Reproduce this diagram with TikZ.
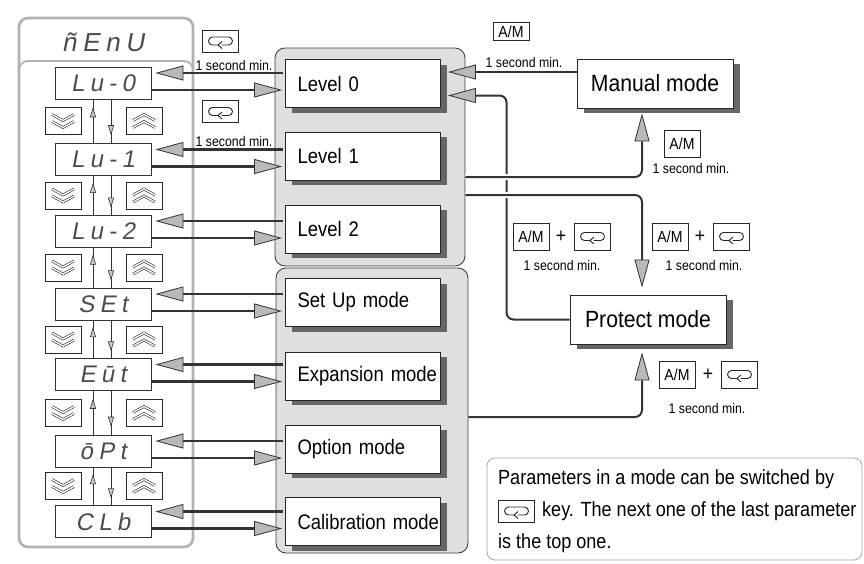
\documentclass[tikz,border=0pt]{standalone}
\usepackage{fontspec}
\setmainfont{Liberation Sans}
\newfontfamily\modefont[FakeStretch=0.88]{Liberation Sans}
\newfontfamily\sidefont[FakeStretch=0.9]{Liberation Sans}
\newfontfamily\segfont[LetterSpace=22,FakeSlant=0.18]{Liberation Sans}
\usetikzlibrary{arrows.meta,calc,decorations.markings,shadows}
\newcommand{\indentmode}[1]{\hspace*{12pt}#1}
\tikzset{
  menupanel/.style={draw=gray!60, line width=2.6pt, rounded corners=9pt, fill=white, inner sep=0pt},
  innerpanel/.style={draw=gray!60, line width=1.8pt, rounded corners=9pt, inner sep=0pt},
  grp/.style={draw=black!75, line width=0.9pt, rounded corners=10pt, fill=gray!25, inner sep=0pt},
  disp/.style={draw=black!80, line width=0.8pt, fill=white, minimum width=96pt, minimum height=32pt, inner sep=0pt, text=black!70, font=\segfont\fontsize{24}{24}\selectfont},
  seg/.style={inner sep=0pt, text=black!70, font=\segfont\fontsize{26}{26}\selectfont},
  modebox/.style={draw=black!85, line width=0.9pt, fill=white, minimum width=155pt, minimum height=48pt, inner sep=0pt, text width=155pt, align=left, font=\modefont\fontsize{21}{24}\selectfont, drop shadow={shadow xshift=6.5pt, shadow yshift=-5pt, fill=black!60, opacity=1}},
  sidebox/.style={draw=black!85, line width=0.9pt, fill=white, minimum width=156pt, minimum height=49pt, inner sep=0pt, font=\sidefont\fontsize{23.5}{26}\selectfont, drop shadow={shadow xshift=6.5pt, shadow yshift=-5pt, fill=black!60, opacity=1}},
  keybox/.style={draw=black!85, line width=0.8pt, fill=white, inner sep=0pt},
  downkey/.style={keybox, minimum width=36pt, minimum height=27pt, path picture={
      \draw[shift={(path picture bounding box.center)}, line width=0.6pt, double=white, double distance=1.4pt]
        (-11,-6.5) -- (0,-0.5) -- (11,-6.5) (-11,0.5) -- (0,6.5) -- (11,0.5);}},
  upkey/.style={keybox, minimum width=36pt, minimum height=27pt, path picture={
      \draw[shift={(path picture bounding box.center)}, line width=0.6pt, double=white, double distance=1.4pt]
        (-11,6.5) -- (0,0.5) -- (11,6.5) (-11,-0.5) -- (0,-6.5) -- (11,-0.5);}},
  loopicon/.style={path picture={
      \draw[shift={(path picture bounding box.center)}, x=1pt, y=1pt, line width=0.9pt, line join=round]
        (1,-4) -- (8,-4) arc[start angle=-90, end angle=90, radius=4pt] -- (-8,4) arc[start angle=90, end angle=270, radius=4pt] -- (-2.5,-4)
        (1.5,-0.5) -- (-2.5,-4) -- (1.5,-7.5);}},
  loopkey/.style={keybox, loopicon, minimum width=36pt, minimum height=22pt},
  loopkeyb/.style={keybox, loopicon, minimum width=36pt, minimum height=27pt},
  amkey/.style={keybox, minimum width=36pt, minimum height=27pt, font=\modefont\fontsize{16}{16}\selectfont},
  secmin/.style={inner sep=0pt, font=\modefont\fontsize{14}{14}\selectfont},
  plus/.style={inner sep=0pt, font=\modefont\fontsize{20}{20}\selectfont},
  notetext/.style={inner sep=0pt, anchor=west, font=\modefont\fontsize{20.5}{22}\selectfont},
  notebox/.style={draw=gray!70, line width=0.8pt, rounded corners=8pt, inner sep=0pt, minimum width=375pt, minimum height=102pt},
  bigarrow/.style={draw=black!80, line width=2.2pt, -{Triangle[length=28pt, width=15pt, fill=gray!55, line width=0.8pt]}},
  rarrow/.style={draw=black!80, line width=2pt, rounded corners=7pt, -{Triangle[length=28pt, width=15pt, fill=gray!55, line width=0.8pt]}},
  halo/.style={preaction={draw=white, line width=6pt, -}},
  vmark/.style={draw=black!80, line width=1pt, postaction={decorate}, decoration={markings, mark=at position 0.82 with {\arrow{Triangle[length=10pt, width=6pt, fill=gray!45, line width=0.6pt]}}}},
}
\begin{document}
\begin{tikzpicture}[x=1pt, y=-1pt]
\useasboundingbox (0,0) rectangle (864,563);
\fill[white] (0,0) rectangle (864,563);
% menu panel
\node[menupanel, minimum width=174pt, minimum height=529pt] (menu) at (106,282.5) {};
\node[innerpanel, minimum width=174pt, minimum height=486pt] (inner) at (106,304) {};
\node[seg] (title) at (103,42) {ñEnU};
% displays
\foreach \i/\y/\t in {0/83/Lu-0, 1/159.5/Lu-1, 2/231/Lu-2, 3/304/SEt, 4/374.5/Eūt, 5/451/ōPt, 6/521.5/CLb}
  \node[disp] (d\i) at (103,\y) {\t};
% groups
\node[grp, minimum width=190pt, minimum height=218pt] (gU) at (370,157) {};
\node[grp, minimum width=192pt, minimum height=285pt] (gL) at (372,410.5) {};
% mode boxes
\foreach \i/\y/\t in {0/83.5/Level 0, 1/156/Level 1, 2/229/Level 2, 3/302.5/Set Up mode, 4/376/Expansion mode, 5/449/Option mode, 6/521.5/Calibration mode}
  \node[modebox] (m\i) at (363,\y) {\indentmode{\t}};
% arrows display <-> modes
\foreach \i in {0,...,6} {
  \draw[bigarrow] ($(m\i.west |- d\i.east)+(-2,-10)$) -- ($(d\i.east)+(4,-10)$);
  \draw[bigarrow] ($(d\i.east)+(0,7)$) -- ($(m\i.west |- d\i.east)+(-3,7)$);
}
% keys and vertical arrows in menu
\foreach \i/\j/\y in {0/1/121, 1/2/195.5, 2/3/267.5, 3/4/339.5, 4/5/413, 5/6/486} {
  \node[downkey] (kd\i) at (63,\y) {};
  \node[upkey] (ku\i) at (144,\y) {};
  \draw[vmark] ([xshift=-10pt]d\j.north) -- ([xshift=-10pt]d\i.south);
  \draw[vmark] ([xshift=8pt]d\i.south) -- ([xshift=8pt]d\j.north);
}
% left key labels
\node[loopkey] (lk0) at (220.5,41) {};
\node[secmin] (s0) at (234,65) {1 second min.};
\node[loopkey] (lk1) at (220.5,111.5) {};
\node[secmin] (sx1) at (234,141) {1 second min.};
% side boxes
\node[sidebox] (man) at (655,83.5) {Manual mode};
\node[sidebox] (pro) at (648,319.5) {Protect mode};
% right arrows
\draw[rarrow] ($(man.west)+(0,-11.5)$) -- ($(m0.east)+(7,-11.5)$);
\draw[rarrow] (pro.west) -- ++(-63,0) |- ($(m0.east)+(7,12)$);
\draw[rarrow, halo] ($(gU.east)+(0,20)$) -| ($(man.south)+(-13,5)$);
\draw[rarrow, halo] ($(gU.east)+(0,38)$) -| ($(pro.north)+(-6,-7)$);
\draw[rarrow] ($(gL.east)+(0,6.5)$) -| ($(pro.south)+(-6,8)$);
% labels
\node[amkey, minimum height=18pt] (am1) at (511,31.5) {A/M};
\node[secmin] (s1) at (524,62) {1 second min.};
\node[amkey] (am2) at (682,143.5) {A/M};
\node[secmin] (s2) at (691,168) {1 second min.};
\node[amkey] (am3) at (531,236.5) {A/M};
\node[plus] (p3) at (561,237) {+};
\node[loopkeyb] (lk3) at (592.5,236.5) {};
\node[secmin] (s3) at (562,265) {1 second min.};
\node[amkey] (am4) at (670,236.5) {A/M};
\node[plus] (p4) at (700,237) {+};
\node[loopkeyb] (lk4) at (731.5,236.5) {};
\node[secmin] (s4) at (704,265) {1 second min.};
\node[amkey] (am5) at (677,374.5) {A/M};
\node[plus] (p5) at (708,375) {+};
\node[loopkeyb] (lk5) at (739.5,374.5) {};
\node[secmin] (s5) at (707,408) {1 second min.};
% note
\node[notebox] (note) at (674.5,509) {};
\node[notetext] (n1) at (498,479) {Parameters in a mode can be switched by};
\node[loopkey] (nk) at (516.5,511) {};
\node[notetext] (n2) at (542,511) {key. The next one of the last parameter};
\node[notetext] (n3) at (498,543) {is the top one.};
\end{tikzpicture}
\end{document}
